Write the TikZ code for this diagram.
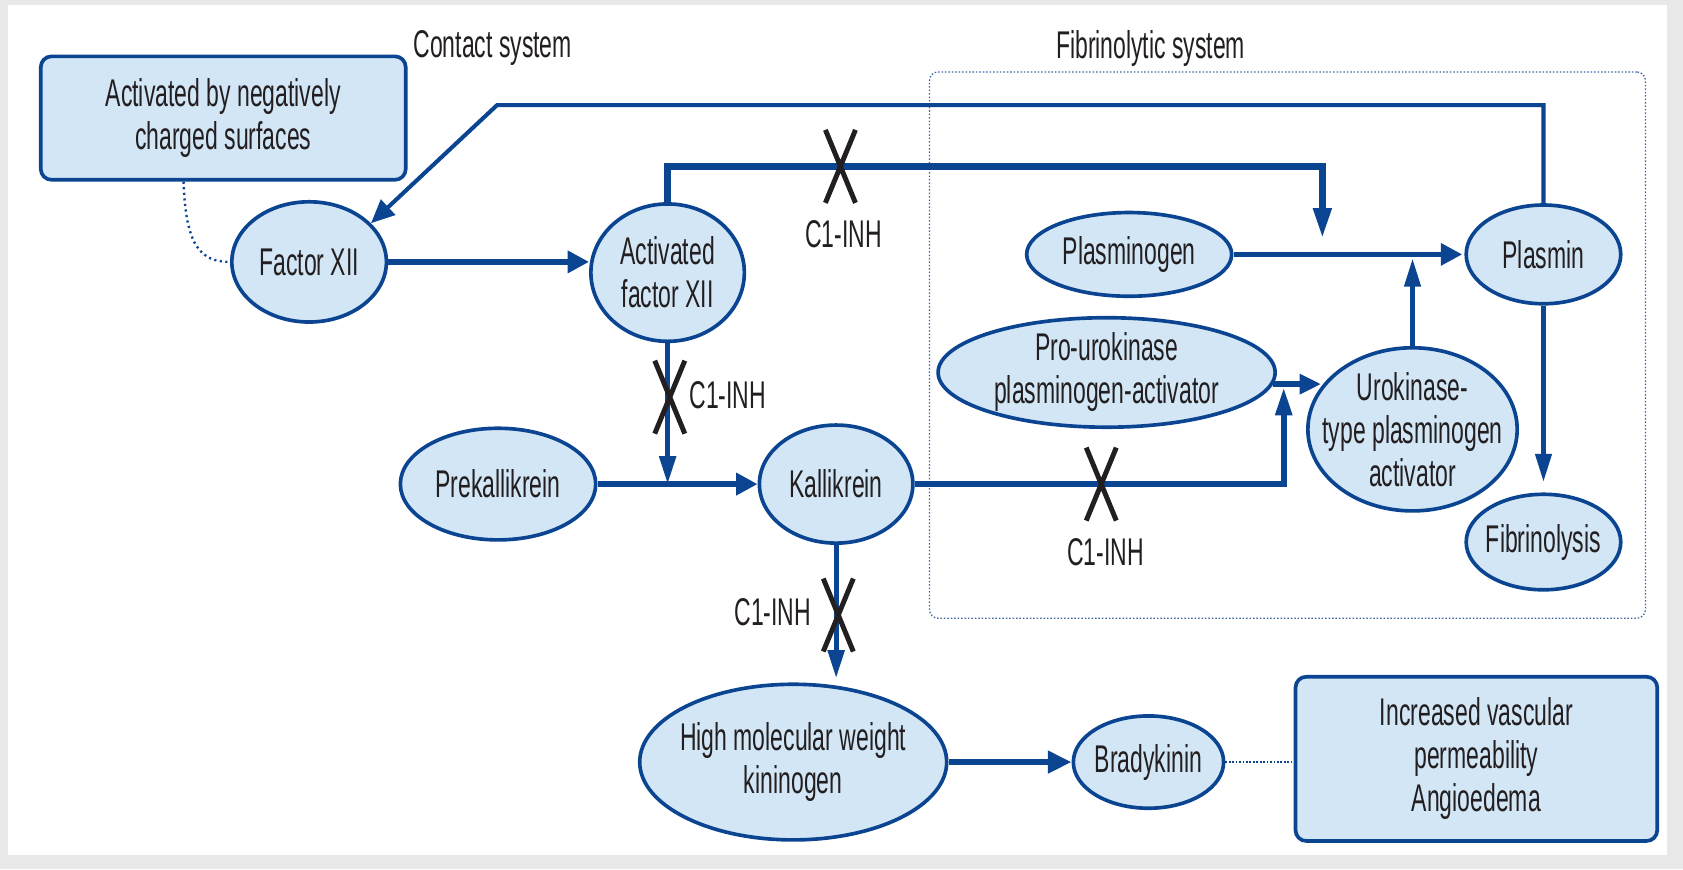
\documentclass[tikz,border=0pt]{standalone}
\usepackage{fontspec}
\setmainfont{Liberation Sans}[FakeStretch=0.595]
\usetikzlibrary{shapes.geometric,arrows.meta}
\definecolor{lineblue}{HTML}{0B4592}
\definecolor{fillblue}{HTML}{D2E6F6}
\definecolor{txt}{HTML}{231F20}
\definecolor{dotblue}{HTML}{3C64A0}
\definecolor{framegray}{HTML}{E8E8E8}
\tikzset{
  ell/.style={ellipse, draw=lineblue, line width=1.7pt, fill=fillblue, inner sep=0pt},
  lbl/.style={label={[align=center,text=txt]center:#1}},
  rbox/.style={rectangle, rounded corners=5pt, draw=lineblue, line width=1.7pt, fill=fillblue, align=center, inner sep=0pt, text=txt},
  fibbox/.style={rectangle, rounded corners=4pt, draw=dotblue, line width=0.6pt, dash pattern=on 0.7pt off 0.9pt},
  connh/.style={draw=lineblue, line width=2.5pt, -{Triangle[length=10pt,width=10pt]}},
  connv/.style={draw=lineblue, line width=2.3pt, -{Triangle[length=13pt,width=7.5pt]}},
  connthin/.style={draw=lineblue, line width=1.9pt, -{Triangle[length=13pt,width=7.5pt]}},
  conndiag/.style={draw=lineblue, line width=1.9pt, -{Triangle[length=11pt,width=9.5pt]}},
  connthickv/.style={draw=lineblue, line width=3.1pt, -{Triangle[length=14pt,width=8pt]}},
  connthickh/.style={draw=lineblue, line width=3.1pt, -{Triangle[length=10pt,width=10pt]}},
  dotline/.style={draw=lineblue, line width=0.8pt, dash pattern=on 0.8pt off 0.8pt},
  dotcurve/.style={draw=lineblue, line width=1.1pt, dash pattern=on 1pt off 1.6pt},
  xline/.style={draw=txt, line width=2.3pt},
  xcross/.pic={\draw[xline] (-14,-34) -- (14,34) (14,-34) -- (-14,34);}
}
\begin{document}
\begin{tikzpicture}[x=0.5pt,y=-0.5pt, font=\fontsize{18}{20}\selectfont, text=txt]
\useasboundingbox (0,0) rectangle (1568,810);
\fill[framegray] (0,0) rectangle (1568,810);
\fill[white] (7,5) rectangle (1553,797);

% system labels and fibrinolytic frame
\node (contact) at (459,45) {Contact system};
\node (fibtitle) at (1072,45) {Fibrinolytic system};
\node[fibbox, minimum width=333.5pt, minimum height=254.5pt] (fibsys) at (1199.5,321.5) {};

% boxes
\node[rbox, minimum width=170pt, minimum height=57.5pt] (actbox) at (208,110) {Activated by negatively\\charged surfaces};
\node[rbox, minimum width=168.5pt, minimum height=76.5pt] (incbox) at (1375.5,707) {Increased vascular\\permeability\\Angioedema};

% ellipses
\node[ell, minimum width=72pt, minimum height=56pt, lbl={Factor XII}] (fxii) at (288,244) {};
\node[ell, minimum width=71.5pt, minimum height=64pt, lbl={Activated\\factor XII}] (afxii) at (622,254) {};
\node[ell, minimum width=95.5pt, minimum height=39pt, lbl={Plasminogen}] (plg) at (1052,237) {};
\node[ell, minimum width=72pt, minimum height=46pt, lbl={Plasmin}] (plm) at (1438,237) {};
\node[ell, minimum width=157pt, minimum height=51pt, lbl={Pro-urokinase\\plasminogen-activator}] (prou) at (1031,347) {};
\node[ell, minimum width=97.5pt, minimum height=76pt, lbl={Urokinase-\\type plasminogen\\activator}] (upa) at (1316,400) {};
\node[ell, minimum width=72pt, minimum height=44.5pt, lbl={Fibrinolysis}] (fib) at (1438,505) {};
\node[ell, minimum width=91pt, minimum height=52pt, lbl={Prekallikrein}] (prek) at (464,451) {};
\node[ell, minimum width=71.5pt, minimum height=55pt, lbl={Kallikrein}] (kal) at (779,451) {};
\node[ell, minimum width=143pt, minimum height=72.5pt, lbl={High molecular weight\\kininogen}] (hmwk) at (739,710) {};
\node[ell, minimum width=70pt, minimum height=43pt, lbl={Bradykinin}] (brady) at (1070,710) {};

% connectors
\coordinate (pr1) at (463,98);
\draw[conndiag] (plm.north) |- (pr1) -- (fxii.32);

\coordinate (ar0) at (1232,155);
\coordinate (ar1) at (1232,222);
\draw[connthickv] (afxii.north) |- (ar0) -- (ar1);

\draw[connh] (fxii.east) -- (fxii.east -| afxii.west);
\draw[connh, line width=2.4pt, shorten >=1pt] (plg.east) -- (plg.east -| plm.west);
\draw[connthin, shorten >=2pt] (upa.north) -- (upa.north |- plg.east);
\draw[connthickh, -{Triangle[length=10pt,width=9pt]}] (prou.-4) -- (prou.-4 -| upa.155);

\coordinate (k1) at (1196,361);
\draw[connv, line width=2.6pt] (kal.east) -| (k1);

\draw[connthin, shorten >=5pt] (plm.south) -- (plm.south |- fib.north);
\draw[connv] (afxii.south) -- (afxii.south |- prek.east);
\draw[connh] (prek.east) -- (prek.east -| kal.west);
\draw[connv, shorten >=2pt] (kal.south) -- (kal.south |- hmwk.north);
\draw[connthickh, -{Triangle[length=11pt,width=10pt]}] (hmwk.east) -- (brady.west);

\draw[dotline] (brady.east) -- (brady.east -| incbox.west);
\draw[dotcurve] (actbox.-122) .. controls (173,228) and (186,244) .. (fxii.west);

% inhibition marks
\pic at (783,155) {xcross};
\node (inh1) at (786,218) {C1-INH};
\pic at (624,370) {xcross};
\node (inh2) at (678,368) {C1-INH};
\pic at (1026,451) {xcross};
\node (inh3) at (1030,514) {C1-INH};
\pic at (781,573) {xcross};
\node (inh4) at (720,570) {C1-INH};
\end{tikzpicture}
\end{document}
